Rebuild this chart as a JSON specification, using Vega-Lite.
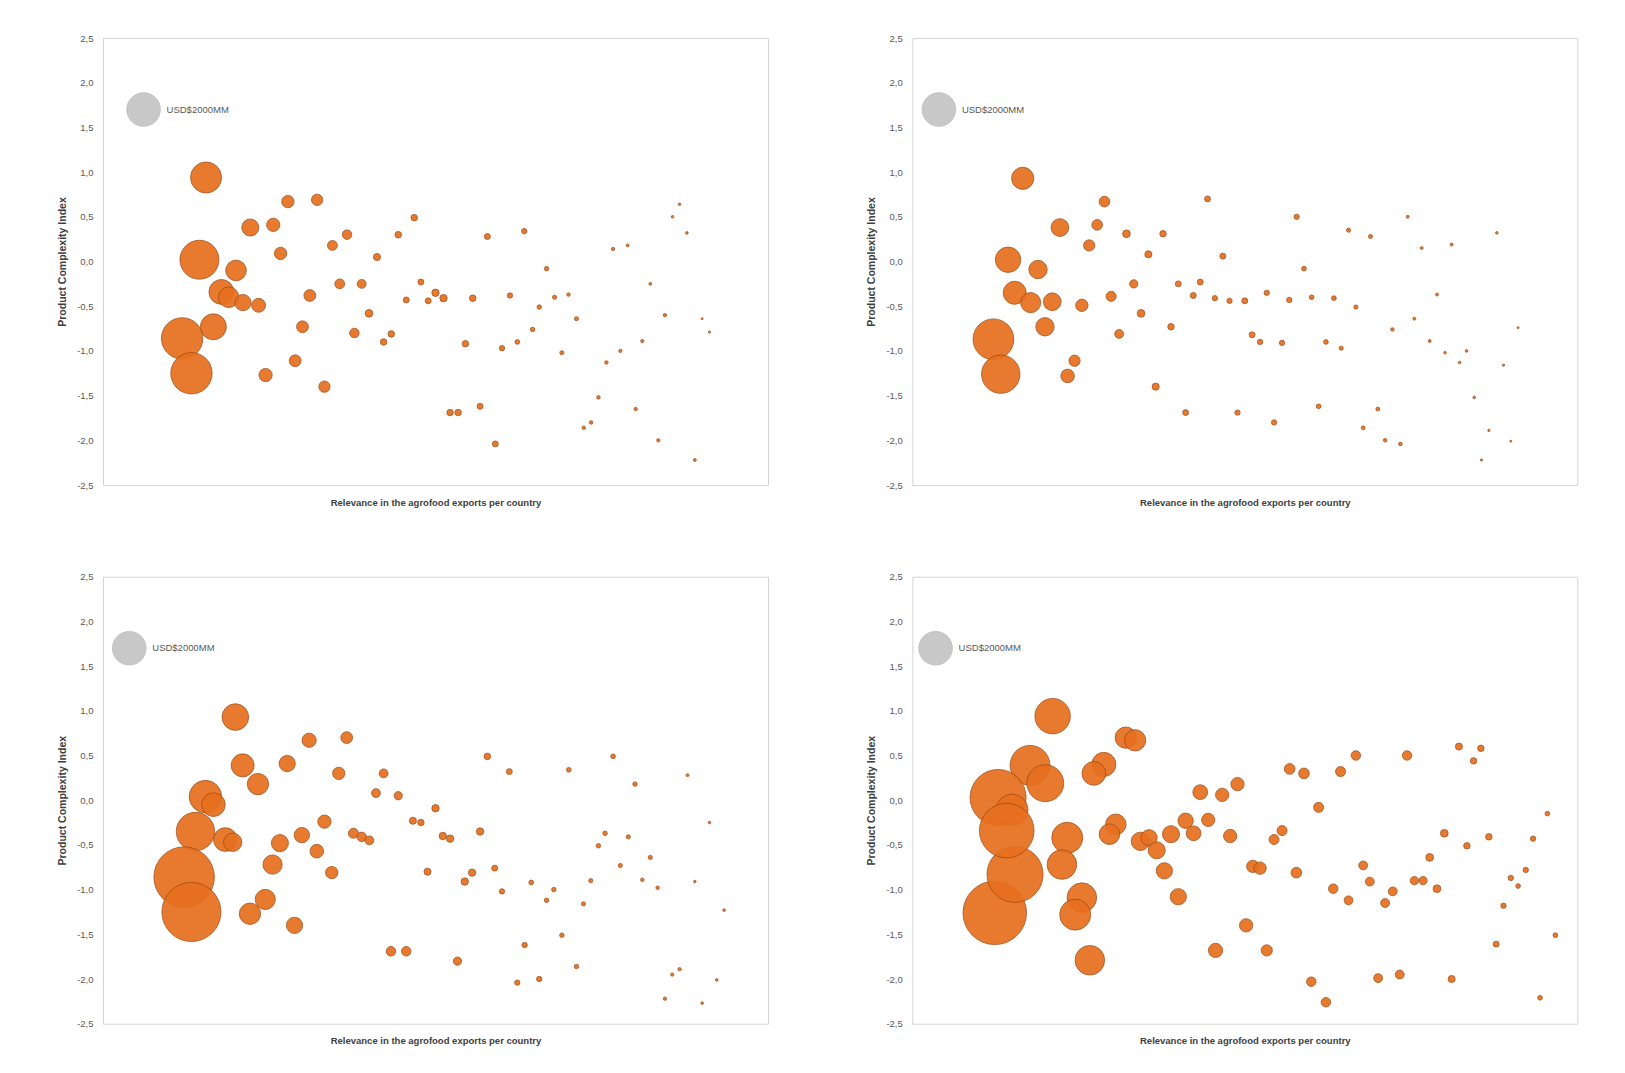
{
  "$schema": "https://vega.github.io/schema/vega-lite/v6.json",
  "background": "white",
  "padding": {"left": 57, "top": 32, "right": 5, "bottom": 5},
  "config": {
    "view": {"stroke": "#D4D4D4", "strokeWidth": 1},
    "axis": {"labelFont": "Liberation Sans", "titleFont": "Liberation Sans", "labelColor": "#595959", "titleColor": "#404040", "grid": false, "ticks": false, "domain": false},
    "locale": {"number": {"decimal": ",", "thousands": ".", "grouping": [3], "currency": ["", ""], "minus": "-"}}
  },
  "datasets": {
    "b": [
      {"p":1,"x":15.5,"y":0.94,"v":1700},{"p":1,"x":14.5,"y":0.02,"v":2680},{"p":1,"x":20.0,"y":-0.10,"v":750},{"p":1,"x":17.8,"y":-0.34,"v":1090},{"p":1,"x":18.9,"y":-0.40,"v":750},{"p":1,"x":21.05,"y":-0.46,"v":465},{"p":1,"x":23.4,"y":-0.49,"v":340},{"p":1,"x":16.6,"y":-0.73,"v":1190},{"p":1,"x":11.9,"y":-0.86,"v":3020},{"p":1,"x":13.3,"y":-1.25,"v":3020},{"p":1,"x":22.15,"y":0.38,"v":515},{"p":1,"x":25.6,"y":0.41,"v":310},{"p":1,"x":27.8,"y":0.67,"v":270},{"p":1,"x":32.2,"y":0.69,"v":225},{"p":1,"x":26.7,"y":0.09,"v":270},{"p":1,"x":36.7,"y":0.30,"v":160},{"p":1,"x":34.5,"y":0.18,"v":170},{"p":1,"x":31.1,"y":-0.38,"v":245},{"p":1,"x":35.6,"y":-0.25,"v":170},{"p":1,"x":38.9,"y":-0.25,"v":140},{"p":1,"x":30.0,"y":-0.73,"v":245},{"p":1,"x":40.0,"y":-0.58,"v":105},{"p":1,"x":37.8,"y":-0.80,"v":160},{"p":1,"x":43.35,"y":-0.81,"v":75},{"p":1,"x":42.2,"y":-0.90,"v":75},{"p":1,"x":28.9,"y":-1.11,"v":245},{"p":1,"x":24.45,"y":-1.27,"v":310},{"p":1,"x":33.3,"y":-1.40,"v":225},{"p":1,"x":41.2,"y":0.05,"v":90},{"p":1,"x":44.4,"y":0.30,"v":75},{"p":1,"x":46.8,"y":0.49,"v":75},{"p":1,"x":47.8,"y":-0.23,"v":62},{"p":1,"x":45.6,"y":-0.43,"v":62},{"p":1,"x":48.9,"y":-0.44,"v":62},
      {"p":1,"x":50.0,"y":-0.35,"v":96},{"p":1,"x":51.2,"y":-0.41,"v":96},{"p":1,"x":55.6,"y":-0.41,"v":74},{"p":1,"x":57.8,"y":0.28,"v":62},{"p":1,"x":63.35,"y":0.34,"v":50},{"p":1,"x":61.2,"y":-0.38,"v":50},{"p":1,"x":66.7,"y":-0.08,"v":35},{"p":1,"x":65.6,"y":-0.51,"v":35},{"p":1,"x":67.9,"y":-0.40,"v":30},{"p":1,"x":70.0,"y":-0.37,"v":22},{"p":1,"x":71.2,"y":-0.64,"v":30},{"p":1,"x":64.6,"y":-0.76,"v":35},{"p":1,"x":54.5,"y":-0.92,"v":74},{"p":1,"x":60.0,"y":-0.97,"v":50},{"p":1,"x":62.3,"y":-0.90,"v":39},{"p":1,"x":69.0,"y":-1.02,"v":30},{"p":1,"x":75.7,"y":-1.13,"v":22},{"p":1,"x":77.8,"y":-1.00,"v":19},{"p":1,"x":81.1,"y":-0.89,"v":19},{"p":1,"x":84.5,"y":-0.60,"v":19},{"p":1,"x":82.3,"y":-0.25,"v":15},{"p":1,"x":76.7,"y":0.14,"v":19},{"p":1,"x":78.9,"y":0.18,"v":15},{"p":1,"x":85.65,"y":0.50,"v":12},{"p":1,"x":86.7,"y":0.64,"v":12},{"p":1,"x":87.8,"y":0.32,"v":12},{"p":1,"x":90.1,"y":-0.64,"v":7},{"p":1,"x":91.2,"y":-0.79,"v":9},{"p":1,"x":74.5,"y":-1.52,"v":22},{"p":1,"x":80.1,"y":-1.65,"v":19},{"p":1,"x":73.4,"y":-1.80,"v":22},{"p":1,"x":72.3,"y":-1.86,"v":22},{"p":1,"x":83.5,"y":-2.00,"v":19},{"p":1,"x":89.0,"y":-2.22,"v":15},{"p":1,"x":52.2,"y":-1.69,"v":74},{"p":1,"x":53.4,"y":-1.69,"v":74},{"p":1,"x":56.7,"y":-1.62,"v":62},{"p":1,"x":59.0,"y":-2.04,"v":62},

      {"p":2,"x":16.6,"y":0.93,"v":870},{"p":2,"x":14.4,"y":0.02,"v":1140},{"p":2,"x":18.9,"y":-0.09,"v":595},{"p":2,"x":15.4,"y":-0.35,"v":935},{"p":2,"x":17.8,"y":-0.46,"v":715},{"p":2,"x":21.05,"y":-0.45,"v":555},{"p":2,"x":19.95,"y":-0.73,"v":595},{"p":2,"x":12.2,"y":-0.87,"v":2930},{"p":2,"x":13.3,"y":-1.26,"v":2600},{"p":2,"x":22.2,"y":0.38,"v":555},{"p":2,"x":28.9,"y":0.67,"v":200},{"p":2,"x":27.8,"y":0.41,"v":200},{"p":2,"x":26.6,"y":0.18,"v":222},{"p":2,"x":24.4,"y":-1.11,"v":222},{"p":2,"x":23.35,"y":-1.28,"v":325},{"p":2,"x":25.5,"y":-0.49,"v":270},{"p":2,"x":29.9,"y":-0.39,"v":177},{"p":2,"x":33.3,"y":-0.25,"v":120},{"p":2,"x":31.1,"y":-0.81,"v":138},{"p":2,"x":34.4,"y":-0.58,"v":105},{"p":2,"x":32.2,"y":0.31,"v":105},{"p":2,"x":37.7,"y":0.31,"v":74},{"p":2,"x":35.5,"y":0.08,"v":89},{"p":2,"x":44.4,"y":0.70,"v":62},{"p":2,"x":46.7,"y":0.06,"v":62},{"p":2,"x":40.0,"y":-0.25,"v":62},{"p":2,"x":43.3,"y":-0.23,"v":62},{"p":2,"x":42.25,"y":-0.38,"v":62},{"p":2,"x":45.5,"y":-0.41,"v":50},{"p":2,"x":47.7,"y":-0.44,"v":50},{"p":2,"x":38.9,"y":-0.73,"v":74},{"p":2,"x":36.6,"y":-1.40,"v":89},{"p":2,"x":41.1,"y":-1.69,"v":62},{"p":2,"x":48.9,"y":-1.69,"v":50},
      {"p":2,"x":50.0,"y":-0.44,"v":62},{"p":2,"x":53.3,"y":-0.35,"v":50},{"p":2,"x":56.7,"y":-0.43,"v":50},{"p":2,"x":60.05,"y":-0.40,"v":39},{"p":2,"x":63.4,"y":-0.41,"v":39},{"p":2,"x":66.7,"y":-0.51,"v":30},{"p":2,"x":57.8,"y":0.50,"v":50},{"p":2,"x":58.9,"y":-0.08,"v":39},{"p":2,"x":65.6,"y":0.35,"v":30},{"p":2,"x":68.9,"y":0.28,"v":30},{"p":2,"x":74.5,"y":0.50,"v":15},{"p":2,"x":76.6,"y":0.15,"v":15},{"p":2,"x":81.1,"y":0.19,"v":15},{"p":2,"x":87.9,"y":0.32,"v":12},{"p":2,"x":78.9,"y":-0.37,"v":15},{"p":2,"x":75.5,"y":-0.64,"v":15},{"p":2,"x":72.2,"y":-0.76,"v":22},{"p":2,"x":77.8,"y":-0.89,"v":15},{"p":2,"x":80.1,"y":-1.02,"v":12},{"p":2,"x":83.35,"y":-1.00,"v":12},{"p":2,"x":82.3,"y":-1.13,"v":12},{"p":2,"x":88.9,"y":-1.16,"v":9},{"p":2,"x":91.1,"y":-0.74,"v":7},{"p":2,"x":51.1,"y":-0.82,"v":62},{"p":2,"x":52.3,"y":-0.90,"v":50},{"p":2,"x":55.6,"y":-0.91,"v":50},{"p":2,"x":62.2,"y":-0.90,"v":39},{"p":2,"x":64.5,"y":-0.97,"v":30},{"p":2,"x":61.1,"y":-1.62,"v":39},{"p":2,"x":54.4,"y":-1.80,"v":50},{"p":2,"x":70.0,"y":-1.65,"v":26},{"p":2,"x":67.8,"y":-1.86,"v":26},{"p":2,"x":71.1,"y":-2.00,"v":22},{"p":2,"x":73.4,"y":-2.04,"v":22},{"p":2,"x":84.5,"y":-1.52,"v":12},{"p":2,"x":86.7,"y":-1.89,"v":9},{"p":2,"x":90.0,"y":-2.01,"v":7},{"p":2,"x":85.6,"y":-2.22,"v":9},

      {"p":3,"x":19.9,"y":0.93,"v":1250},{"p":3,"x":21.0,"y":0.39,"v":935},{"p":3,"x":23.3,"y":0.18,"v":800},{"p":3,"x":27.7,"y":0.41,"v":465},{"p":3,"x":31.0,"y":0.67,"v":355},{"p":3,"x":36.65,"y":0.70,"v":245},{"p":3,"x":35.45,"y":0.30,"v":270},{"p":3,"x":42.2,"y":0.30,"v":138},{"p":3,"x":41.05,"y":0.08,"v":138},{"p":3,"x":44.4,"y":0.05,"v":120},{"p":3,"x":15.4,"y":0.04,"v":1865},{"p":3,"x":16.6,"y":-0.05,"v":990},{"p":3,"x":13.9,"y":-0.35,"v":2600},{"p":3,"x":18.4,"y":-0.44,"v":990},{"p":3,"x":19.5,"y":-0.47,"v":595},{"p":3,"x":12.2,"y":-0.86,"v":6460},{"p":3,"x":13.3,"y":-1.25,"v":6160},{"p":3,"x":24.4,"y":-1.11,"v":715},{"p":3,"x":22.1,"y":-1.27,"v":800},{"p":3,"x":28.8,"y":-1.40,"v":465},{"p":3,"x":26.6,"y":-0.48,"v":515},{"p":3,"x":25.5,"y":-0.72,"v":650},{"p":3,"x":29.9,"y":-0.39,"v":415},{"p":3,"x":33.3,"y":-0.24,"v":312},{"p":3,"x":32.15,"y":-0.57,"v":325},{"p":3,"x":34.4,"y":-0.81,"v":270},{"p":3,"x":37.65,"y":-0.37,"v":177},{"p":3,"x":38.9,"y":-0.41,"v":158},{"p":3,"x":40.05,"y":-0.45,"v":138},{"p":3,"x":46.6,"y":-0.23,"v":89},{"p":3,"x":47.8,"y":-0.25,"v":74},{"p":3,"x":48.8,"y":-0.80,"v":89},{"p":3,"x":43.3,"y":-1.69,"v":158},{"p":3,"x":45.6,"y":-1.69,"v":158},
      {"p":3,"x":50.0,"y":-0.09,"v":96},{"p":3,"x":51.1,"y":-0.40,"v":96},{"p":3,"x":52.2,"y":-0.43,"v":96},{"p":3,"x":56.7,"y":-0.35,"v":96},{"p":3,"x":57.8,"y":0.49,"v":74},{"p":3,"x":61.1,"y":0.32,"v":62},{"p":3,"x":70.05,"y":0.34,"v":39},{"p":3,"x":76.7,"y":0.49,"v":39},{"p":3,"x":80.0,"y":0.18,"v":35},{"p":3,"x":87.9,"y":0.28,"v":15},{"p":3,"x":91.2,"y":-0.25,"v":12},{"p":3,"x":75.5,"y":-0.37,"v":35},{"p":3,"x":79.0,"y":-0.41,"v":30},{"p":3,"x":74.5,"y":-0.51,"v":35},{"p":3,"x":82.3,"y":-0.64,"v":30},{"p":3,"x":77.8,"y":-0.73,"v":30},{"p":3,"x":55.5,"y":-0.81,"v":96},{"p":3,"x":54.4,"y":-0.91,"v":96},{"p":3,"x":58.9,"y":-0.76,"v":62},{"p":3,"x":60.0,"y":-1.02,"v":50},{"p":3,"x":64.4,"y":-0.92,"v":39},{"p":3,"x":67.8,"y":-1.00,"v":35},{"p":3,"x":66.7,"y":-1.12,"v":35},{"p":3,"x":72.25,"y":-1.16,"v":30},{"p":3,"x":73.35,"y":-0.90,"v":30},{"p":3,"x":81.1,"y":-0.89,"v":22},{"p":3,"x":83.4,"y":-0.98,"v":22},{"p":3,"x":89.0,"y":-0.91,"v":12},{"p":3,"x":93.4,"y":-1.23,"v":12},{"p":3,"x":53.3,"y":-1.80,"v":120},{"p":3,"x":63.4,"y":-1.62,"v":50},{"p":3,"x":69.0,"y":-1.51,"v":35},{"p":3,"x":71.2,"y":-1.86,"v":35},{"p":3,"x":62.3,"y":-2.04,"v":50},{"p":3,"x":65.6,"y":-2.00,"v":50},{"p":3,"x":85.6,"y":-1.95,"v":19},{"p":3,"x":86.7,"y":-1.89,"v":19},{"p":3,"x":84.5,"y":-2.22,"v":19},{"p":3,"x":90.1,"y":-2.27,"v":12},{"p":3,"x":92.3,"y":-2.01,"v":12},

      {"p":4,"x":21.1,"y":0.94,"v":2215},{"p":4,"x":32.1,"y":0.70,"v":800},{"p":4,"x":33.5,"y":0.67,"v":800},{"p":4,"x":28.8,"y":0.40,"v":1035},{"p":4,"x":27.3,"y":0.30,"v":990},{"p":4,"x":17.7,"y":0.39,"v":2805},{"p":4,"x":20.0,"y":0.19,"v":2400},{"p":4,"x":12.9,"y":0.03,"v":5550},{"p":4,"x":15.0,"y":-0.11,"v":1800},{"p":4,"x":12.4,"y":-1.26,"v":7120},{"p":4,"x":15.45,"y":-0.83,"v":5550},{"p":4,"x":14.2,"y":-0.34,"v":5270},{"p":4,"x":23.3,"y":-0.42,"v":1700},{"p":4,"x":22.5,"y":-0.72,"v":1540},{"p":4,"x":25.5,"y":-1.09,"v":1540},{"p":4,"x":24.5,"y":-1.28,"v":1700},{"p":4,"x":26.7,"y":-1.79,"v":1540},{"p":4,"x":30.6,"y":-0.27,"v":750},{"p":4,"x":29.65,"y":-0.38,"v":750},{"p":4,"x":34.3,"y":-0.46,"v":595},{"p":4,"x":35.6,"y":-0.42,"v":465},{"p":4,"x":36.75,"y":-0.56,"v":515},{"p":4,"x":38.9,"y":-0.38,"v":515},{"p":4,"x":41.1,"y":-0.23,"v":415},{"p":4,"x":42.3,"y":-0.37,"v":385},{"p":4,"x":44.5,"y":-0.22,"v":312},{"p":4,"x":43.3,"y":0.09,"v":385},{"p":4,"x":46.6,"y":0.06,"v":312},{"p":4,"x":48.9,"y":0.18,"v":312},{"p":4,"x":47.8,"y":-0.40,"v":312},{"p":4,"x":37.9,"y":-0.79,"v":465},{"p":4,"x":40.0,"y":-1.08,"v":465},{"p":4,"x":45.6,"y":-1.68,"v":355},
      {"p":4,"x":51.2,"y":-0.74,"v":270},{"p":4,"x":52.3,"y":-0.76,"v":270},{"p":4,"x":50.2,"y":-1.40,"v":312},{"p":4,"x":53.3,"y":-1.68,"v":222},{"p":4,"x":56.75,"y":0.35,"v":200},{"p":4,"x":58.9,"y":0.30,"v":200},{"p":4,"x":64.4,"y":0.32,"v":177},{"p":4,"x":66.7,"y":0.50,"v":158},{"p":4,"x":74.4,"y":0.50,"v":158},{"p":4,"x":61.1,"y":-0.08,"v":177},{"p":4,"x":55.6,"y":-0.34,"v":177},{"p":4,"x":54.4,"y":-0.44,"v":177},{"p":4,"x":57.75,"y":-0.81,"v":200},{"p":4,"x":63.3,"y":-0.99,"v":158},{"p":4,"x":65.6,"y":-1.12,"v":138},{"p":4,"x":67.8,"y":-0.73,"v":138},{"p":4,"x":68.8,"y":-0.91,"v":138},{"p":4,"x":72.25,"y":-1.02,"v":138},{"p":4,"x":71.1,"y":-1.15,"v":138},{"p":4,"x":75.5,"y":-0.90,"v":120},{"p":4,"x":76.8,"y":-0.90,"v":120},{"p":4,"x":78.9,"y":-0.99,"v":105},{"p":4,"x":77.8,"y":-0.64,"v":105},{"p":4,"x":80.0,"y":-0.37,"v":105},{"p":4,"x":83.4,"y":-0.51,"v":74},{"p":4,"x":86.7,"y":-0.41,"v":74},{"p":4,"x":82.2,"y":0.60,"v":89},{"p":4,"x":85.5,"y":0.58,"v":74},{"p":4,"x":84.4,"y":0.44,"v":74},{"p":4,"x":95.5,"y":-0.15,"v":39},{"p":4,"x":93.35,"y":-0.43,"v":50},{"p":4,"x":92.25,"y":-0.78,"v":50},{"p":4,"x":90.0,"y":-0.87,"v":50},{"p":4,"x":91.1,"y":-0.96,"v":39},{"p":4,"x":88.9,"y":-1.18,"v":50},{"p":4,"x":87.8,"y":-1.61,"v":62},{"p":4,"x":96.7,"y":-1.51,"v":39},{"p":4,"x":94.4,"y":-2.21,"v":39},{"p":4,"x":81.1,"y":-2.00,"v":89},{"p":4,"x":73.3,"y":-1.95,"v":138},{"p":4,"x":70.05,"y":-1.99,"v":138},{"p":4,"x":60.0,"y":-2.03,"v":158},{"p":4,"x":62.2,"y":-2.26,"v":158}
    ],
    "lg": [
      {"p":1,"x":6.1,"y":1.70,"v":2000,"label":"USD$2000MM"},
      {"p":2,"x":4.0,"y":1.70,"v":2000,"label":"USD$2000MM"},
      {"p":3,"x":3.95,"y":1.70,"v":2000,"label":"USD$2000MM"},
      {"p":4,"x":3.5,"y":1.70,"v":2000,"label":"USD$2000MM"}
    ]
  },
  "columns": 2,
  "spacing": {"row": 91.7, "column": 144.3},
  "bounds": "flush",
  "concat": [
    {"width": 665, "height": 447, "layer": [
      {"data": {"name": "b"}, "transform": [{"filter": "datum.p == 1"}],
       "mark": {"type": "circle", "fill": "#E6701F", "stroke": "#9C4A14", "strokeWidth": 0.8, "opacity": 0.93},
       "encoding": {"x": {"field": "x", "type": "quantitative", "scale": {"domain": [0, 100]}, "axis": {"labels": false, "title": "Relevance in the agrofood exports per country", "titleFontSize": 9.5, "titleFontWeight": "bold", "titlePadding": 12}},
                    "y": {"field": "y", "type": "quantitative", "scale": {"domain": [-2.5, 2.5], "nice": false}, "axis": {"values": [-2.5,-2,-1.5,-1,-0.5,0,0.5,1,1.5,2,2.5], "format": ".1f", "labelFontSize": 9.5, "labelPadding": 10, "title": "Product Complexity Index", "titleFontSize": 10.5, "titleFontWeight": "bold", "titlePadding": 9}},
                    "size": {"field": "v", "type": "quantitative", "scale": {"domain": [0, 2000], "range": [0, 1134]}, "legend": null}}},
      {"data": {"name": "lg"}, "transform": [{"filter": "datum.p == 1"}],
       "mark": {"type": "circle", "fill": "#C8C8C8", "stroke": "#BEBEBE", "strokeWidth": 0.8, "opacity": 1},
       "encoding": {"x": {"field": "x", "type": "quantitative"}, "y": {"field": "y", "type": "quantitative"}, "size": {"field": "v", "type": "quantitative", "scale": {"domain": [0, 2000], "range": [0, 1134]}, "legend": null}}},
      {"data": {"name": "lg"}, "transform": [{"filter": "datum.p == 1"}],
       "mark": {"type": "text", "align": "left", "baseline": "middle", "dx": 23, "font": "Liberation Sans", "fontSize": 9.5, "color": "#595959"},
       "encoding": {"x": {"field": "x", "type": "quantitative"}, "y": {"field": "y", "type": "quantitative"}, "text": {"field": "label"}}}
    ]},
    {"width": 665, "height": 447, "layer": [
      {"data": {"name": "b"}, "transform": [{"filter": "datum.p == 2"}],
       "mark": {"type": "circle", "fill": "#E6701F", "stroke": "#9C4A14", "strokeWidth": 0.8, "opacity": 0.93},
       "encoding": {"x": {"field": "x", "type": "quantitative", "scale": {"domain": [0, 100]}, "axis": {"labels": false, "title": "Relevance in the agrofood exports per country", "titleFontSize": 9.5, "titleFontWeight": "bold", "titlePadding": 12}},
                    "y": {"field": "y", "type": "quantitative", "scale": {"domain": [-2.5, 2.5], "nice": false}, "axis": {"values": [-2.5,-2,-1.5,-1,-0.5,0,0.5,1,1.5,2,2.5], "format": ".1f", "labelFontSize": 9.5, "labelPadding": 10, "title": "Product Complexity Index", "titleFontSize": 10.5, "titleFontWeight": "bold", "titlePadding": 9}},
                    "size": {"field": "v", "type": "quantitative", "scale": {"domain": [0, 2000], "range": [0, 1134]}, "legend": null}}},
      {"data": {"name": "lg"}, "transform": [{"filter": "datum.p == 2"}],
       "mark": {"type": "circle", "fill": "#C8C8C8", "stroke": "#BEBEBE", "strokeWidth": 0.8, "opacity": 1},
       "encoding": {"x": {"field": "x", "type": "quantitative"}, "y": {"field": "y", "type": "quantitative"}, "size": {"field": "v", "type": "quantitative", "scale": {"domain": [0, 2000], "range": [0, 1134]}, "legend": null}}},
      {"data": {"name": "lg"}, "transform": [{"filter": "datum.p == 2"}],
       "mark": {"type": "text", "align": "left", "baseline": "middle", "dx": 23, "font": "Liberation Sans", "fontSize": 9.5, "color": "#595959"},
       "encoding": {"x": {"field": "x", "type": "quantitative"}, "y": {"field": "y", "type": "quantitative"}, "text": {"field": "label"}}}
    ]},
    {"width": 665, "height": 447, "layer": [
      {"data": {"name": "b"}, "transform": [{"filter": "datum.p == 3"}],
       "mark": {"type": "circle", "fill": "#E6701F", "stroke": "#9C4A14", "strokeWidth": 0.8, "opacity": 0.93},
       "encoding": {"x": {"field": "x", "type": "quantitative", "scale": {"domain": [0, 100]}, "axis": {"labels": false, "title": "Relevance in the agrofood exports per country", "titleFontSize": 9.5, "titleFontWeight": "bold", "titlePadding": 12}},
                    "y": {"field": "y", "type": "quantitative", "scale": {"domain": [-2.5, 2.5], "nice": false}, "axis": {"values": [-2.5,-2,-1.5,-1,-0.5,0,0.5,1,1.5,2,2.5], "format": ".1f", "labelFontSize": 9.5, "labelPadding": 10, "title": "Product Complexity Index", "titleFontSize": 10.5, "titleFontWeight": "bold", "titlePadding": 9}},
                    "size": {"field": "v", "type": "quantitative", "scale": {"domain": [0, 2000], "range": [0, 1134]}, "legend": null}}},
      {"data": {"name": "lg"}, "transform": [{"filter": "datum.p == 3"}],
       "mark": {"type": "circle", "fill": "#C8C8C8", "stroke": "#BEBEBE", "strokeWidth": 0.8, "opacity": 1},
       "encoding": {"x": {"field": "x", "type": "quantitative"}, "y": {"field": "y", "type": "quantitative"}, "size": {"field": "v", "type": "quantitative", "scale": {"domain": [0, 2000], "range": [0, 1134]}, "legend": null}}},
      {"data": {"name": "lg"}, "transform": [{"filter": "datum.p == 3"}],
       "mark": {"type": "text", "align": "left", "baseline": "middle", "dx": 23, "font": "Liberation Sans", "fontSize": 9.5, "color": "#595959"},
       "encoding": {"x": {"field": "x", "type": "quantitative"}, "y": {"field": "y", "type": "quantitative"}, "text": {"field": "label"}}}
    ]},
    {"width": 665, "height": 447, "layer": [
      {"data": {"name": "b"}, "transform": [{"filter": "datum.p == 4"}],
       "mark": {"type": "circle", "fill": "#E6701F", "stroke": "#9C4A14", "strokeWidth": 0.8, "opacity": 0.93},
       "encoding": {"x": {"field": "x", "type": "quantitative", "scale": {"domain": [0, 100]}, "axis": {"labels": false, "title": "Relevance in the agrofood exports per country", "titleFontSize": 9.5, "titleFontWeight": "bold", "titlePadding": 12}},
                    "y": {"field": "y", "type": "quantitative", "scale": {"domain": [-2.5, 2.5], "nice": false}, "axis": {"values": [-2.5,-2,-1.5,-1,-0.5,0,0.5,1,1.5,2,2.5], "format": ".1f", "labelFontSize": 9.5, "labelPadding": 10, "title": "Product Complexity Index", "titleFontSize": 10.5, "titleFontWeight": "bold", "titlePadding": 9}},
                    "size": {"field": "v", "type": "quantitative", "scale": {"domain": [0, 2000], "range": [0, 1134]}, "legend": null}}},
      {"data": {"name": "lg"}, "transform": [{"filter": "datum.p == 4"}],
       "mark": {"type": "circle", "fill": "#C8C8C8", "stroke": "#BEBEBE", "strokeWidth": 0.8, "opacity": 1},
       "encoding": {"x": {"field": "x", "type": "quantitative"}, "y": {"field": "y", "type": "quantitative"}, "size": {"field": "v", "type": "quantitative", "scale": {"domain": [0, 2000], "range": [0, 1134]}, "legend": null}}},
      {"data": {"name": "lg"}, "transform": [{"filter": "datum.p == 4"}],
       "mark": {"type": "text", "align": "left", "baseline": "middle", "dx": 23, "font": "Liberation Sans", "fontSize": 9.5, "color": "#595959"},
       "encoding": {"x": {"field": "x", "type": "quantitative"}, "y": {"field": "y", "type": "quantitative"}, "text": {"field": "label"}}}
    ]}
  ]
}
